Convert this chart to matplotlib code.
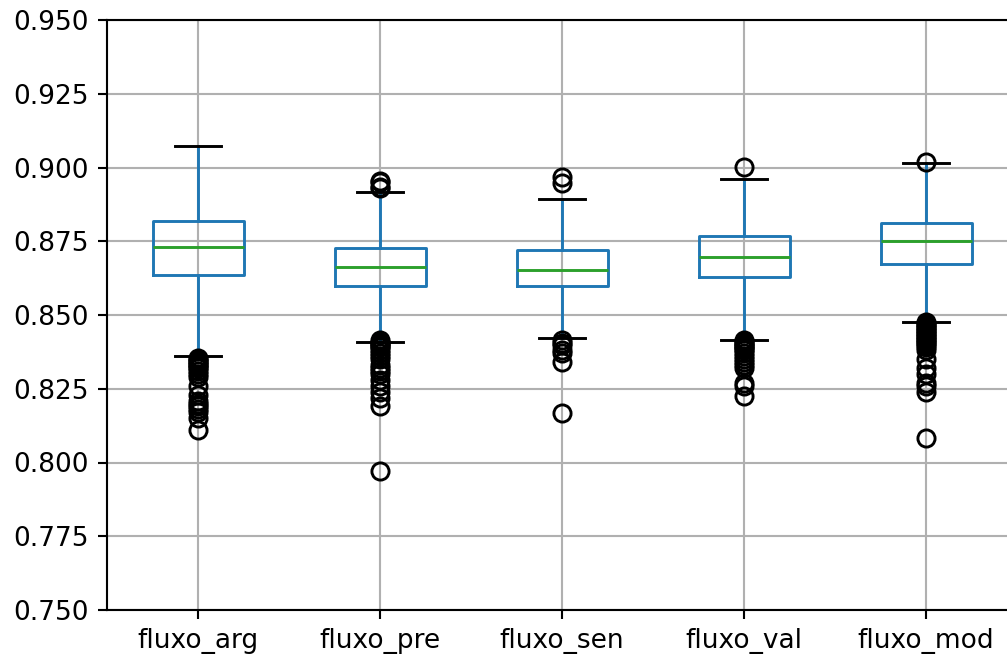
import matplotlib
matplotlib.use("Agg")
from matplotlib import pyplot as plt
import numpy as np

# colunas avaliadas
labels = ["fluxo_arg", "fluxo_pre", "fluxo_sen", "fluxo_val", "fluxo_mod"]

# estatisticas de cada caixa
q1 = [0.8634, 0.8598, 0.8599, 0.8629, 0.8673]
med = [0.8729, 0.8664, 0.8654, 0.8697, 0.8752]
q3 = [0.8820, 0.8728, 0.8720, 0.8769, 0.8813]
whislo = [0.8360, 0.8410, 0.8423, 0.8416, 0.8475]
whishi = [0.9074, 0.8916, 0.8892, 0.8961, 0.9015]

# pontos fora dos bigodes
fliers_arg = [0.8355, 0.835, 0.8345, 0.834, 0.8335, 0.833, 0.8325, 0.832,
              0.831, 0.830, 0.829, 0.826, 0.823, 0.821, 0.820, 0.819,
              0.818, 0.817, 0.815, 0.811]
fliers_pre = [0.8955, 0.895, 0.8935, 0.893,
              0.8415, 0.841, 0.8405, 0.840, 0.8395, 0.839, 0.838, 0.837,
              0.836, 0.835, 0.833, 0.832, 0.831, 0.830, 0.828, 0.826,
              0.824, 0.822, 0.819, 0.797]
fliers_sen = [0.8969, 0.8946, 0.8415, 0.8405, 0.840, 0.838, 0.837, 0.834,
              0.8167]
fliers_val = [0.9001, 0.8415, 0.841, 0.8405, 0.840, 0.8395, 0.839, 0.8385,
              0.838, 0.837, 0.836, 0.835, 0.834, 0.833, 0.832, 0.827,
              0.826, 0.8225]
fliers_mod = [0.902, 0.8475, 0.847, 0.8465, 0.846, 0.8455, 0.845, 0.8445,
              0.844, 0.8435, 0.843, 0.8425, 0.842, 0.8415, 0.841, 0.8405,
              0.840, 0.839, 0.838, 0.835, 0.832, 0.830, 0.827, 0.826,
              0.824, 0.8084]
fliers = [fliers_arg, fliers_pre, fliers_sen, fliers_val, fliers_mod]

stats = []
for i in range(len(labels)):
    stats.append({"label": labels[i], "q1": q1[i], "med": med[i], "q3": q3[i],
                  "whislo": whislo[i], "whishi": whishi[i],
                  "fliers": np.array(fliers[i])})

fig = plt.figure(figsize=(1007 / 190, 656 / 190), dpi=190)
ax = fig.add_axes([107 / 1007, 46 / 656, 910 / 1007, 590 / 656])

ax.bxp(stats, widths=0.5,
       boxprops={"color": "C0", "linewidth": 1.1},
       whiskerprops={"color": "C0", "linewidth": 1.1},
       medianprops={"color": "C2", "linewidth": 1.1},
       capprops={"color": "k", "linewidth": 1.1},
       flierprops={"markeredgecolor": "k", "markeredgewidth": 1.1,
                   "markersize": 6.5})

ax.set_xlim(0.5, 5.5)
ax.set_ylim(0.75, 0.95)
ax.set_yticks(np.arange(0.75, 0.9501, 0.025))
ax.set_yticklabels(["%.3f" % v for v in np.arange(0.75, 0.9501, 0.025)])
ax.grid(True)
ax.set_axisbelow(True)

fig.savefig("out.png", dpi=190)
